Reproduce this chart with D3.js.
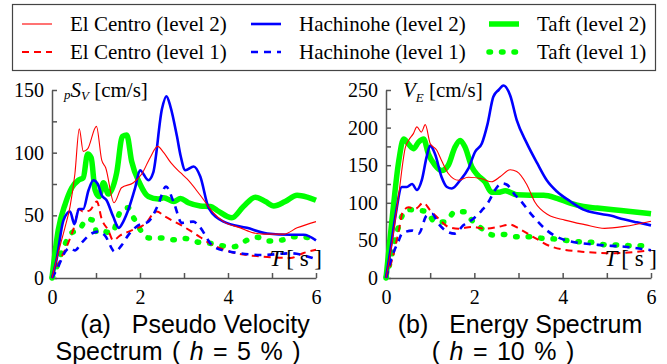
<!DOCTYPE html>
<html>
<head>
<meta charset="utf-8">
<script src="https://cdn.jsdelivr.net/npm/d3@7"></script>
</head>
<body style="margin:0;background:#fff">
<div id="chart"></div>
<script>
const SERIF = '"Liberation Serif", "Times New Roman", serif';
const SANS = '"Liberation Sans", Arial, sans-serif';

// x ticks (period T, s)
const xTicks = [0, 1, 2, 3, 4, 5, 6];
const xLabels = [0, 2, 4, 6];

// (a) pseudo velocity spectrum, h = 5 %  -- [T, pSv]
const pvElCentro2 = [[0,0],[0.14,20],[0.3,41],[0.41,57],[0.52,83],[0.62,119],[0.71,101],[0.81,103],[1.01,121],[1.13,94],[1.22,88],[1.41,60],[1.58,72],[1.85,76],[2.04,83],[2.23,96],[2.4,105],[2.54,100],[2.7,92],[2.92,84],[3.07,79],[3.37,66],[3.67,52],[3.9,45],[4.28,40],[4.58,36],[4.8,35],[5.27,35],[5.57,40],[6,45]];
const pvHachinohe2 = [[0,0],[0.1,14],[0.26,46],[0.41,53],[0.51,43],[0.61,55],[0.71,55],[0.83,70],[0.94,78],[1.04,75],[1.13,66],[1.24,62],[1.39,49],[1.52,40],[1.62,45],[1.73,54],[1.89,72],[2.0,86],[2.19,78],[2.3,84],[2.5,135],[2.6,145],[2.69,137],[2.84,113],[2.92,98],[3.03,86],[3.22,89],[3.37,81],[3.56,56],[3.9,45],[4.43,40],[4.89,35.5],[5.42,34.5],[5.72,34.5],[6,30]];
const pvTaft2 = [[0,0],[0.14,38],[0.3,59],[0.45,72],[0.6,78],[0.71,80],[0.81,99],[0.89,96],[0.98,70],[1.07,65],[1.17,76],[1.28,67],[1.47,84],[1.6,113],[1.7,114],[1.81,93],[2.0,75],[2.19,65],[2.42,63],[2.54,64],[2.77,61],[2.92,63.5],[3.1,60],[3.37,57.5],[3.6,57],[3.75,54],[4.09,48],[4.35,57],[4.62,64.5],[4.85,61],[5.04,57.5],[5.3,61],[5.57,66],[5.8,64.5],[6,62]];
const pvElCentro1 = [[0,0],[0.22,17],[0.37,28],[0.52,43],[0.6,55],[0.71,53],[0.86,54],[1.02,61],[1.13,47],[1.28,38],[1.39,30],[1.55,34],[1.81,38],[2.11,43],[2.38,53],[2.57,49],[2.99,41],[3.22,36],[3.67,26],[4.05,21],[4.8,17],[5.42,16],[5.72,20],[6,22.6]];
const pvHachinohe1 = [[0,0],[0.14,9],[0.3,21],[0.41,24],[0.52,22],[0.67,28],[0.9,35.5],[1.05,37],[1.2,34],[1.43,21],[1.58,26],[1.73,34],[1.96,42],[2.19,45],[2.42,59],[2.59,73],[2.77,60],[2.95,44],[3.21,45],[3.35,41],[3.67,25],[4.05,21],[4.8,18.4],[5.42,19.7],[6,15]];
const pvTaft1 = [[0,0],[0.1,8],[0.18,17],[0.28,25.5],[0.41,35],[0.64,39.5],[0.79,47],[0.94,46],[1.02,36],[1.17,37],[1.36,36],[1.58,54.5],[1.73,56],[1.87,47],[2.19,32],[2.49,32],[2.77,30.5],[3.03,31.5],[3.33,28.5],[3.59,27.7],[3.86,25.8],[4.13,25],[4.39,29.5],[4.66,32.5],[4.92,29.5],[5.23,30.3],[5.49,33],[5.76,32.5],[6,31]];

// (b) energy spectrum, h = 10 %  -- [T, VE]
const veElCentro2 = [[0,0],[0.135,46],[0.29,112],[0.44,174],[0.51,183],[0.62,192],[0.7,201],[0.8,194],[0.89,204],[1.0,179],[1.15,170],[1.26,156],[1.41,139],[1.64,130],[1.86,134],[2.17,132],[2.39,128],[2.59,135],[2.81,144],[2.96,141.6],[3.19,124],[3.37,101],[3.67,84],[4.05,77],[4.5,71],[4.95,66],[5.4,68.6],[6,75.5]];
const veHachinohe2 = [[0,0],[0.1,37],[0.21,81],[0.36,121],[0.47,121],[0.59,125],[0.7,117],[0.81,130],[0.92,161],[1.0,176],[1.11,165],[1.26,134],[1.38,121],[1.49,119],[1.68,130],[1.86,145],[2.02,168],[2.17,179],[2.3,205],[2.43,241],[2.55,250],[2.66,256],[2.81,243],[2.96,210],[3.19,179],[3.42,153],[3.64,130],[3.87,115],[4.17,102],[4.47,91],[4.78,86],[5.08,83],[5.38,78],[5.68,74],[6,70]];
const veTaft2 = [[0,0],[0.135,77],[0.29,156],[0.4,185],[0.51,178],[0.62,172],[0.74,181],[0.85,185],[0.96,165],[1.11,150],[1.26,143],[1.41,150],[1.56,174],[1.68,183],[1.79,174],[1.94,148],[2.09,136],[2.24,128],[2.39,114],[2.54,114],[2.7,116],[2.96,110.6],[3.27,110],[3.57,110],[3.87,106],[4.17,99.5],[4.47,95],[4.78,93],[5.15,90.7],[5.53,88.5],[6,85.4]];
const veElCentro1 = [[0,0],[0.135,23.5],[0.29,63],[0.38,88],[0.51,94],[0.66,92],[0.85,100],[1.0,90],[1.19,79],[1.41,68],[1.64,65.6],[1.94,68],[2.24,65.6],[2.54,68],[2.81,71],[3.0,66],[3.38,53],[3.75,41.6],[4.43,35],[5.18,33],[6,37]];
const veHachinohe1 = [[0,0],[0.135,28],[0.29,50],[0.36,59],[0.59,63],[0.74,59],[0.92,83],[1.04,85.5],[1.19,72],[1.41,61],[1.56,59],[1.75,70],[1.94,77],[2.17,90],[2.32,101],[2.47,117],[2.62,126],[2.74,124],[2.93,110],[3.0,106],[3.3,84],[3.67,62],[4.05,50.5],[4.8,44],[5.4,41.6],[6,37]];
const veTaft1 = [[0,0],[0.1,23],[0.2,50],[0.27,65.6],[0.36,82],[0.51,91],[0.74,90],[0.92,88],[1.11,74.5],[1.34,74.5],[1.56,88],[1.79,88],[1.94,77],[2.17,65.6],[2.43,57],[2.66,58],[2.92,55],[3.26,55],[3.56,52.6],[3.87,51.7],[4.13,49.5],[4.43,48],[4.69,47.3],[5.0,44],[5.27,44],[5.53,43],[6,43]];

// series styles, same order in both panels
const styles = [
  { name: "El Centro (level 2)", color: "#ff0000", w: 1.1, dash: null },
  { name: "Hachinohe (level 2)", color: "#0000ff", w: 2.6, dash: null },
  { name: "Taft (level 2)", color: "#00ff00", w: 5.5, dash: null },
  { name: "El Centro (level 1)", color: "#ff0000", w: 2, dash: "7,5" },
  { name: "Hachinohe (level 1)", color: "#0000ff", w: 2.6, dash: "7,6" },
  { name: "Taft (level 1)", color: "#00ff00", w: 5.5, dash: "1.5,11", cap: "round" },
];

const svg = d3.select("#chart").append("svg").attr("width", 667).attr("height", 364);
svg.append("rect").attr("width", 667).attr("height", 364).attr("fill", "#fff");

// legend
const lg = svg.append("g");
lg.append("rect").attr("x", 12.5).attr("y", 4.5).attr("width", 643).attr("height", 66)
  .attr("fill", "none").attr("stroke", "#444").attr("stroke-width", 1.2);
const legCols = [22, 251, 489];
const legRows = [24, 52];
// level 2 on first row, level 1 on second
[[0, 0, 0], [1, 1, 0], [2, 2, 0], [3, 0, 1], [4, 1, 1], [5, 2, 1]].forEach(([i, c, r]) => {
  const s = styles[i];
  const x0 = legCols[c], y0 = legRows[r];
  lg.append("line").attr("x1", x0).attr("x2", x0 + 30).attr("y1", y0).attr("y2", y0)
    .attr("stroke", s.color).attr("stroke-width", s.w)
    .attr("stroke-dasharray", s.dash).attr("stroke-linecap", s.cap || "butt");
  lg.append("text").style("font-family", SERIF).attr("x", x0 + 48).attr("y", y0 + 7)
    .attr("font-size", 21).attr("fill", "#000").text(s.name);
});

function panel(opts) {
  const x = d3.scaleLinear().domain([0, 6]).range(opts.xr);
  const y = d3.scaleLinear().domain([0, opts.ymax]).range([278, 90]);
  const g = svg.append("g");

  const xa = g.append("g").attr("transform", "translate(0,278)")
    .call(d3.axisBottom(x).tickValues(xTicks).tickSizeInner(-5).tickSizeOuter(0)
      .tickPadding(12).tickFormat(d => xLabels.includes(d) ? d : ""));

  const ya = g.append("g").attr("transform", `translate(${opts.xr[0]},0)`)
    .call(d3.axisLeft(y).tickValues(d3.range(0, opts.ymax + 1, 25)).tickSizeInner(-5).tickSizeOuter(0)
      .tickPadding(8).tickFormat(d => d % opts.ystep === 0 ? d : ""));

  [xa, ya].forEach(a => {
    a.selectAll("path, line").attr("stroke", "#555").attr("stroke-width", 1.5);
    a.selectAll("text").style("font-family", SERIF).attr("font-size", 20).attr("fill", "#000");
  });

  const line = d3.line().x(d => x(d[0])).y(d => y(d[1])).curve(d3.curveMonotoneX);
  const order = [2, 5, 3, 4, 1, 0];
  order.forEach(i => {
    const s = styles[i];
    g.append("path").datum(opts.series[i]).attr("d", line)
      .attr("fill", "none").attr("stroke", s.color).attr("stroke-width", s.w)
      .attr("stroke-dasharray", s.dash).attr("stroke-linecap", s.cap || "butt")
      .attr("stroke-linejoin", "round");
  });

  // y label
  const yl = g.append("text").style("font-family", SERIF).attr("x", opts.xr[0] + opts.ylx)
    .attr("y", 97).attr("font-size", 21).attr("fill", "#000");
  opts.ylabel(yl);

  // T [ s ]
  const tl = g.append("text").style("font-family", SERIF).attr("x", opts.xr[1] + 6).attr("y", 266)
    .attr("text-anchor", "end").attr("font-size", 23).attr("fill", "#000");
  tl.append("tspan").attr("font-style", "italic").text("T");
  tl.append("tspan").attr("dx", 4).text("[ s ]");
  return g;
}

panel({
  xr: [52, 316], ymax: 150, ystep: 50, ylx: 12,
  series: [pvElCentro2, pvHachinohe2, pvTaft2, pvElCentro1, pvHachinohe1, pvTaft1],
  ylabel: t => {
    t.append("tspan").attr("font-style", "italic").attr("font-size", 13).attr("dy", 2).text("p");
    t.append("tspan").attr("font-style", "italic").attr("dy", -2).text("S");
    t.append("tspan").attr("font-style", "italic").attr("font-size", 13).attr("dy", 3).text("V");
    t.append("tspan").attr("dy", -3).text(" [cm/s]");
  }
});

panel({
  xr: [386, 651], ymax: 250, ystep: 50, ylx: 17,
  series: [veElCentro2, veHachinohe2, veTaft2, veElCentro1, veHachinohe1, veTaft1],
  ylabel: t => {
    t.append("tspan").attr("font-style", "italic").text("V");
    t.append("tspan").attr("font-style", "italic").attr("font-size", 13).attr("dy", 5).text("E");
    t.append("tspan").attr("dy", -5).text(" [cm/s]");
  }
});

// captions
function caption(cx, cy, parts, ws) {
  const t = svg.append("text").style("font-family", SANS).attr("font-size", 25).attr("fill", "#000")
    .attr("x", cx).attr("y", cy).attr("text-anchor", "middle").style("white-space", "pre")
    .style("word-spacing", (ws || 0) + "px");
  parts.forEach(p => t.append("tspan").attr("font-style", p.i ? "italic" : null).text(p.s));
}
caption(195, 333, [{ s: "(a)   Pseudo Velocity" }]);
caption(178, 360, [{ s: "Spectrum ( " }, { s: "h", i: true }, { s: " = 5 % )" }], 2.5);
caption(520, 333, [{ s: "(b)   Energy Spectrum" }]);
caption(503, 360, [{ s: "( " }, { s: "h", i: true }, { s: " = 10 % )" }], 2.5);
</script>
</body>
</html>
